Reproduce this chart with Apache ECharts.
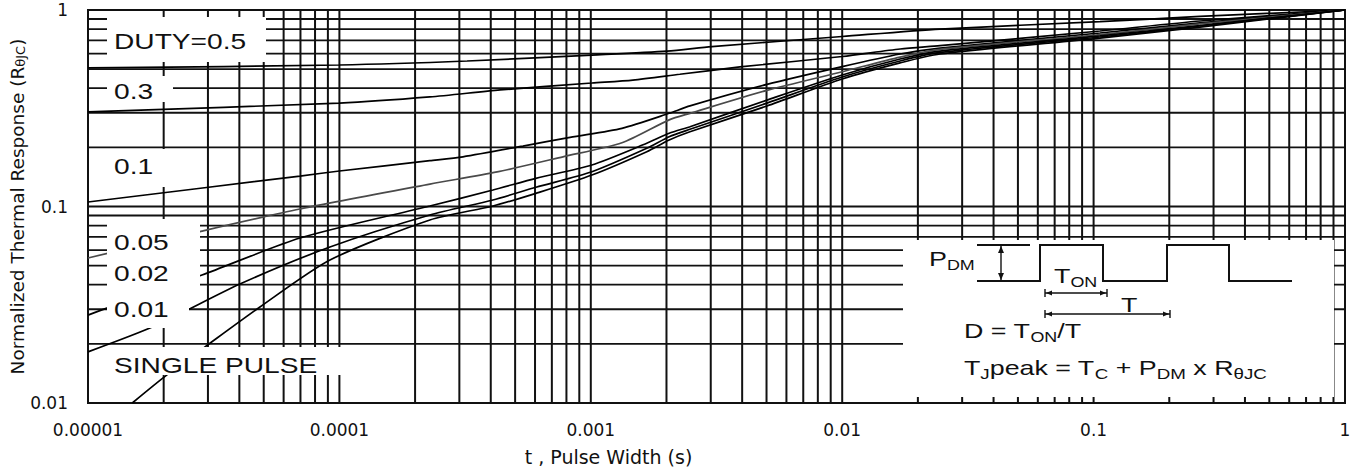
<!DOCTYPE html>
<html>
<head>
<meta charset="utf-8">
<script src="https://cdn.jsdelivr.net/npm/echarts@6/dist/echarts.min.js"></script>
<style>
html, body { margin: 0; padding: 0; background: #fff; }
#chart { width: 1363px; height: 475px; }
</style>
</head>
<body>
<div id="chart"></div>
<script>
// axis ranges and tick labels
var xRange = [1e-5, 1];
var yRange = [0.01, 1];
var xTickLabels = ['0.00001', '0.0001', '0.001', '0.01', '0.1', '1'];
var yTickLabels = ['0.01', '0.1', '1'];

// curves, [t (s), normalized r(t)]
var duty05 = [[1e-5,0.507],[1e-4,0.525],[3.22e-4,0.550],[1.01e-3,0.590],[2.01e-3,0.618],[3.03e-3,0.651],[1e-2,0.733],[2.45e-2,0.800],[0.106,0.872],[0.265,0.927],[1,1]];
var duty03 = [[1e-5,0.303],[1e-4,0.336],[2.29e-4,0.361],[4.36e-4,0.392],[1.01e-3,0.425],[1.47e-3,0.440],[2.26e-3,0.471],[3.92e-3,0.513],[1e-2,0.580],[1.7e-2,0.633],[2.45e-2,0.658],[0.106,0.782],[0.265,0.879],[1,1]];
var duty01 = [[1e-5,0.1054],[6.97e-5,0.1429],[1e-4,0.1516],[2.29e-4,0.171],[3.10e-4,0.179],[5.37e-4,0.203],[8.27e-4,0.225],[1.33e-3,0.250],[2.05e-3,0.298],[2.48e-3,0.325],[5.02e-3,0.418],[1e-2,0.515],[1.7e-2,0.597],[2.45e-2,0.640],[0.106,0.764],[0.265,0.859],[1,1]];
var duty005 = [[1e-5,0.0547],[2.84e-5,0.075],[6.97e-5,0.0971],[2.29e-4,0.130],[4.24e-4,0.150],[7.75e-4,0.179],[1.33e-3,0.211],[2.05e-3,0.276],[2.48e-3,0.298],[5.02e-3,0.390],[1e-2,0.485],[1.7e-2,0.576],[2.45e-2,0.630],[0.106,0.750],[0.265,0.849],[1,1]];
var duty002 = [[1e-5,0.028],[1.19e-5,0.0304],[2.84e-5,0.0448],[6.97e-5,0.0691],[2.29e-4,0.1006],[4.08e-4,0.1213],[6.05e-4,0.1391],[1.01e-3,0.1627],[1.67e-3,0.2098],[2.05e-3,0.2358],[2.48e-3,0.2547],[5.02e-3,0.348],[1e-2,0.467],[1.7e-2,0.563],[2.45e-2,0.618],[0.106,0.738],[0.265,0.834],[1,1]];
var duty001 = [[1e-5,0.0182],[1.85e-5,0.0247],[4.02e-5,0.0403],[9.17e-5,0.0622],[2.29e-4,0.0905],[4.08e-4,0.1079],[6.05e-4,0.1253],[1.01e-3,0.1503],[1.67e-3,0.1978],[2.05e-3,0.2265],[2.48e-3,0.2471],[5.02e-3,0.336],[1e-2,0.456],[1.7e-2,0.550],[2.45e-2,0.608],[0.106,0.729],[0.265,0.829],[1,1]];
var singlePulse = [[1.5e-5,0.01],[2.06e-5,0.0139],[2.92e-5,0.0193],[4.83e-5,0.0308],[9.17e-5,0.0534],[2.29e-4,0.0854],[4.08e-4,0.1006],[6.05e-4,0.1167],[1.01e-3,0.1446],[1.67e-3,0.1901],[2.05e-3,0.2181],[2.48e-3,0.2402],[5.02e-3,0.3247],[1e-2,0.4456],[1.7e-2,0.538],[2.45e-2,0.597],[0.106,0.720],[0.265,0.819],[1,1]];

var curves = [
    {name: 'DUTY=0.5', data: duty05, color: '#000'},
    {name: '0.3', data: duty03, color: '#000'},
    {name: '0.1', data: duty01, color: '#000'},
    {name: '0.05', data: duty005, color: '#4a4a4a'},
    {name: '0.02', data: duty002, color: '#000'},
    {name: '0.01', data: duty001, color: '#000'},
    {name: 'SINGLE PULSE', data: singlePulse, color: '#000'}
];

var FONT = '"DejaVu Sans", sans-serif';
var ARIAL = '"Liberation Sans", Arial, sans-serif';

// log grid: 1..9 in every decade, [x, y, 0] vertical / [x, y, 1] horizontal
var gridData = [];
for (var e = -5; e < 0; e++) {
    for (var k = 1; k <= 9; k++) if (!(e === -5 && k === 1)) gridData.push([k * Math.pow(10, e), 0.1, 0]);
}
for (var e2 = -2; e2 < 0; e2++) {
    for (var k2 = 1; k2 <= 9; k2++) if (!(e2 === -2 && k2 === 1)) gridData.push([0.001, k2 * Math.pow(10, e2), 1]);
}

var chart = echarts.init(document.getElementById('chart'), null, {renderer: 'svg'});

function decadeLabel(list, v) {
    var i = Math.round(Math.log10(v)) - Math.round(Math.log10(parseFloat(list[0])));
    return list[i] || '';
}

var series = [{
    type: 'custom',
    z: 1,
    silent: true,
    clip: false,
    encode: {x: 0, y: 1},
    data: gridData,
    renderItem: function (params, api) {
        var a, b, w;
        if (api.value(2) === 0) {
            a = api.coord([api.value(0), yRange[0]]);
            b = api.coord([api.value(0), yRange[1]]);
            w = 2;
        } else {
            a = api.coord([xRange[0], api.value(1)]);
            b = api.coord([xRange[1], api.value(1)]);
            w = 1.8;
        }
        return {type: 'line', shape: {x1: a[0], y1: a[1], x2: b[0], y2: b[1]}, style: {stroke: '#111', lineWidth: w}};
    }
}];
curves.forEach(function (c) {
    series.push({
        name: c.name,
        type: 'line',
        data: c.data,
        z: 3,
        smooth: 0.25,
        showSymbol: false,
        silent: true,
        lineStyle: {color: c.color, width: 1.7}
    });
});

// white label patches over the grid
var patches = [[107,17,159,45],[107,76,66,26],[107,149,68,38],[107,219,93,78],[107,296,82,32],[107,347,238,28],[903,240,431,157]];
var graphics = patches.map(function (p) {
    return {type: 'rect', z: 20, shape: {x: p[0], y: p[1], width: p[2], height: p[3]}, style: {fill: '#fff'}};
});

// text is drawn a bit wider, like the scanned figure
function label(x, y, text, size, rich, sx) {
    return {
        type: 'text', z: 30, x: x, y: y, scaleX: sx || 1.28,
        style: {
            text: text, fill: '#111', fontSize: size, fontFamily: ARIAL,
            align: 'left', verticalAlign: 'middle', textAlign: 'left', textVerticalAlign: 'middle',
            lineHeight: 26, rich: rich || {}
        }
    };
}
var sub = {s: {fontSize: 14, fontFamily: ARIAL, fill: '#111', lineHeight: 15, verticalAlign: 'bottom'}};

var labelY = [41, 91, 166, 242, 273, 309, 365];
curves.forEach(function (c, i) {
    graphics.push(label(114, labelY[i], c.name, 22));
});

// inset: pulse diagram
var ink = {stroke: '#111', lineWidth: 2, fill: null};
graphics.push({type: 'polyline', z: 30, shape: {points: [[977,281],[1040,281],[1040,245],[1103,245],[1103,281],[1167,281],[1167,245],[1229,245],[1229,281],[1292,281]]}, style: ink});
graphics.push({type: 'line', z: 30, shape: {x1: 977, y1: 245, x2: 1030, y2: 245}, style: ink});
graphics.push({type: 'line', z: 30, shape: {x1: 1001, y1: 246, x2: 1001, y2: 280}, style: {stroke: '#111', lineWidth: 1.4}});
graphics.push({type: 'polygon', z: 30, shape: {points: [[1001,246],[998,253],[1004,253]]}, style: {fill: '#111'}});
graphics.push({type: 'polygon', z: 30, shape: {points: [[1001,280],[998,273],[1004,273]]}, style: {fill: '#111'}});
function dim(x1, x2, y) {
    var st = {stroke: '#111', lineWidth: 1.4};
    graphics.push({type: 'line', z: 30, shape: {x1: x1, y1: y, x2: x2, y2: y}, style: st});
    graphics.push({type: 'line', z: 30, shape: {x1: x1, y1: y - 4, x2: x1, y2: y + 4}, style: st});
    graphics.push({type: 'line', z: 30, shape: {x1: x2, y1: y - 4, x2: x2, y2: y + 4}, style: st});
    graphics.push({type: 'polygon', z: 30, shape: {points: [[x1 + 1, y], [x1 + 7, y - 2.5], [x1 + 7, y + 2.5]]}, style: {fill: '#111'}});
    graphics.push({type: 'polygon', z: 30, shape: {points: [[x2 - 1, y], [x2 - 7, y - 2.5], [x2 - 7, y + 2.5]]}, style: {fill: '#111'}});
}
dim(1045, 1107, 293);
dim(1045, 1170, 314);
graphics.push(label(929, 259, 'P{s|DM}', 21, sub));
graphics.push(label(1054, 276, 'T{s|ON}', 21, sub));
graphics.push(label(1121, 305, 'T', 21));
graphics.push(label(964, 331, 'D = T{s|ON}/T', 21, sub));
graphics.push(label(964, 368, 'T{s|J}peak = T{s|C} + P{s|DM} x R{s|θJC}', 20, sub, 1.34));

var option = {
    backgroundColor: '#fff',
    animation: false,
    grid: {left: 88, right: 18, top: 10, bottom: 72, containLabel: false, outerBoundsMode: 'none',
        show: true, borderColor: '#111', borderWidth: 2, backgroundColor: 'transparent'},
    xAxis: {
        type: 'log', logBase: 10, min: xRange[0], max: xRange[1],
        name: 't , Pulse Width (s)', nameLocation: 'middle', nameGap: 44,
        nameTextStyle: {fontSize: 19, fontFamily: FONT, color: '#111', padding: [0, 216, 0, 0]},
        axisLine: {show: true, lineStyle: {color: '#111', width: 2}},
        axisTick: {show: false},
        splitLine: {show: false},
        axisLabel: {fontSize: 17, fontFamily: FONT, color: '#111', margin: 18,
            formatter: function (v) { return decadeLabel(xTickLabels, v); }}
    },
    yAxis: {
        type: 'log', logBase: 10, min: yRange[0], max: yRange[1],
        name: 'Normalized Thermal Response (R{s|θJC})', nameLocation: 'middle', nameGap: 61,
        nameMoveOverlap: false,
        nameTextStyle: {fontSize: 18.5, fontFamily: FONT, color: '#111',
            rich: {s: {fontSize: 13, fontFamily: FONT, color: '#111', verticalAlign: 'bottom', lineHeight: 13}}},
        axisLine: {show: true, lineStyle: {color: '#111', width: 2}},
        axisTick: {show: false},
        splitLine: {show: false},
        axisLabel: {fontSize: 17, fontFamily: FONT, color: '#111', margin: 20,
            formatter: function (v) { return decadeLabel(yTickLabels, v); }}
    },
    series: series,
    graphic: {elements: graphics}
};

chart.setOption(option);
</script>
</body>
</html>
